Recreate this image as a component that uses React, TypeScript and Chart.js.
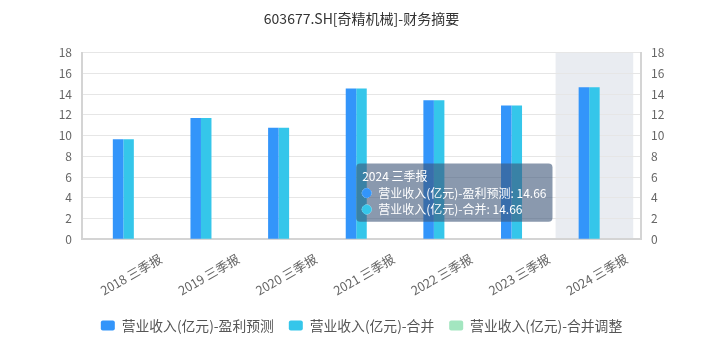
import React, { useEffect, useRef } from 'react';
import { Chart, registerables, Tooltip } from 'chart.js';

Chart.register(...registerables);

const titleText = '603677.SH[奇精机械]-财务摘要';
const categories = ['2018 三季报', '2019 三季报', '2020 三季报', '2021 三季报', '2022 三季报', '2023 三季报', '2024 三季报'];
const seriesNames = ['营业收入(亿元)-盈利预测', '营业收入(亿元)-合并', '营业收入(亿元)-合并调整'];
const forecastValues = [9.65, 11.7, 10.75, 14.55, 13.4, 12.9, 14.66];
const mergedValues = [9.65, 11.7, 10.75, 14.55, 13.4, 12.9, 14.66];
const adjustedValues: (number | null)[] = [null, null, null, null, null, null, null];
const yMin = 0;
const yMax = 18;
const yStep = 2;
const activeIndex = 6;

const colors = ['#3395fa', '#35c6ea', '#a3e6c0'];
const FONT = '"Noto Sans CJK SC", "Noto Sans", sans-serif';

(Tooltip.positioners as any).leftOfBand = function (items: any[]) {
  if (!items.length) return false;
  const chart = this.chart;
  const idx = items[0].index;
  return {
    x: chart.scales.x.getPixelForValue(idx - 0.54),
    y: chart.scales.y.getPixelForValue(4.5),
  };
};

const hoverBand = {
  id: 'hoverBand',
  beforeDraw(chart: any) {
    const act = chart.tooltip && chart.tooltip.getActiveElements ? chart.tooltip.getActiveElements() : [];
    if (!act || !act.length) return;
    const idx = act[0].index;
    const { ctx, chartArea } = chart;
    const x = chart.scales.x;
    const l = x.getPixelForValue(idx - 0.5);
    const r = x.getPixelForValue(idx + 0.5);
    ctx.save();
    ctx.fillStyle = '#e9ecf1';
    ctx.fillRect(l, chartArea.top, r - l, chartArea.bottom - chartArea.top);
    ctx.restore();
  },
};

const toPoints = (arr: (number | null)[]) => arr.map((v, i) => ({ x: i, y: v }));

export default function App() {
  const ref = useRef<HTMLCanvasElement | null>(null);

  useEffect(() => {
    if (!ref.current) return;
    Chart.defaults.font.family = FONT;
    const chart = new Chart(ref.current, {
      type: 'bar',
      data: {
        datasets: [
          { label: seriesNames[0], data: toPoints(forecastValues) as any, backgroundColor: colors[0], hoverBackgroundColor: colors[0], borderWidth: 0, yAxisID: 'y' },
          { label: seriesNames[1], data: toPoints(mergedValues) as any, backgroundColor: colors[1], hoverBackgroundColor: colors[1], borderWidth: 0, yAxisID: 'y' },
          { label: seriesNames[2], data: toPoints(adjustedValues) as any, backgroundColor: colors[2], hoverBackgroundColor: colors[2], borderWidth: 0, yAxisID: 'y' },
        ],
      },
      options: {
        animation: false,
        responsive: true,
        maintainAspectRatio: false,
        events: [],
        layout: { padding: { top: 0, left: 0, right: 0, bottom: 11.5 } },
        datasets: { bar: { categoryPercentage: 0.406, barPercentage: 1 } },
        scales: {
          x: {
            type: 'linear',
            offset: false,
            min: -0.6,
            max: 6.6,
            grid: { display: false, offset: false },
            border: { display: true, color: '#d4d4d4', width: 2 },
            ticks: {
              stepSize: 1,
              autoSkip: false,
              minRotation: 30,
              maxRotation: 30,
              labelOffset: 32,
              padding: 4,
              color: '#666',
              font: { size: 12.5 },
              callback: (v: any) => (Number.isInteger(v) && categories[v] ? categories[v] : ''),
            },
            afterBuildTicks: (scale: any) => {
              scale.ticks = scale.ticks.filter((t: any) => Number.isInteger(t.value) && t.value >= 0 && t.value < categories.length);
            },
            afterFit: (scale: any) => {
              scale.height = 64.5;
            },
          },
          y: {
            position: 'left',
            min: yMin,
            max: yMax,
            grid: { color: '#e6e6e6', drawTicks: false },
            border: { display: true, color: '#d4d4d4', width: 2 },
            ticks: { stepSize: yStep, padding: 10, color: '#666', font: { size: 12 } },
            afterFit: (scale: any) => {
              scale.width = 82;
            },
          },
          y1: {
            position: 'right',
            min: yMin,
            max: yMax,
            grid: { display: false, drawTicks: false },
            border: { display: true, color: '#d4d4d4', width: 2 },
            ticks: { stepSize: yStep, padding: 10, color: '#666', font: { size: 12 } },
            afterFit: (scale: any) => {
              scale.width = 70;
            },
          },
        },
        plugins: {
          title: {
            display: true,
            text: titleText,
            fullSize: false,
            color: '#333',
            font: { size: 14, weight: 'normal' as any, lineHeight: 1.2 },
            padding: { top: 10.3, bottom: 25.6 },
          },
          legend: {
            position: 'bottom',
            fullSize: false,
            labels: {
              boxWidth: 14,
              boxHeight: 10,
              useBorderRadius: true,
              borderRadius: 2,
              padding: 15,
              color: '#555',
              font: { size: 13.8 },
            },
          },
          tooltip: {
            enabled: true,
            position: 'leftOfBand' as any,
            mode: 'index',
            intersect: false,
            xAlign: 'right',
            yAlign: 'center',
            caretSize: 0,
            caretPadding: 0,
            cornerRadius: 4,
            backgroundColor: 'rgba(60,85,120,0.6)',
            titleColor: '#fff',
            bodyColor: '#fff',
            titleFont: { size: 12, weight: 'normal' as any },
            bodyFont: { size: 12 },
            padding: { top: 6, bottom: 5, left: 6, right: 6 },
            titleMarginBottom: 2,
            bodySpacing: 2,
            usePointStyle: true,
            boxWidth: 9,
            boxHeight: 9,
            boxPadding: 5,
            filter: (item: any) => item.parsed && item.parsed.y != null && !isNaN(item.parsed.y),
            callbacks: {
              title: (items: any[]) => (items.length ? categories[items[0].dataIndex] : ''),
              label: (ctx: any) => `${ctx.dataset.label}: ${ctx.parsed.y}`,
              labelColor: (ctx: any) => ({
                borderColor: ctx.dataset.backgroundColor,
                backgroundColor: ctx.dataset.backgroundColor,
              }),
              labelPointStyle: () => ({ pointStyle: 'circle', rotation: 0 }),
            },
          },
        },
      },
      plugins: [hoverBand],
    } as any);

    const items = [
      { datasetIndex: 0, index: activeIndex },
      { datasetIndex: 1, index: activeIndex },
    ];
    const px = chart.scales.x.getPixelForValue(activeIndex);
    const py = chart.scales.y.getPixelForValue(4.5);
    chart.tooltip!.setActiveElements(items, { x: px, y: py });
    chart.update();

    return () => chart.destroy();
  }, []);

  return (
    <div style={{ position: 'fixed', left: 0, top: 0, width: 711, height: 354, background: '#fff' }}>
      <canvas ref={ref} />
    </div>
  );
}
